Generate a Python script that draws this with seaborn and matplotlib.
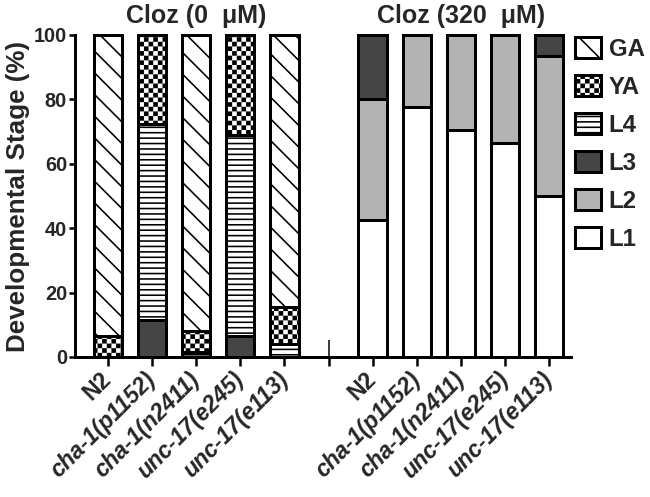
import numpy as np
import pandas as pd
import matplotlib
matplotlib.use("Agg")
import matplotlib.pyplot as plt
import matplotlib.hatch as mhatch
import matplotlib.patches as mpatches
import matplotlib.transforms as mtransforms
from matplotlib.path import Path
import seaborn as sns

# ---------------- data ----------------
strains = ["N2", "cha-1(p1152)", "cha-1(n2411)", "unc-17(e245)", "unc-17(e113)"]
conditions = ["Cloz (0  \u03bcM)", "Cloz (320  \u03bcM)"]
stages = ["L1", "L2", "L3", "L4", "YA", "GA"]

# Cloz 0 uM
L1_0 = [0, 0, 0, 0, 0]
L2_0 = [0, 0, 0, 0, 0]
L3_0 = [0, 11.5, 0, 6.5, 0]
L4_0 = [0, 61.0, 1.5, 62.5, 4.0]
YA_0 = [6.5, 27.5, 6.5, 31.0, 11.5]
GA_0 = [93.5, 0, 92.0, 0, 84.5]
# Cloz 320 uM
L1_320 = [42.5, 77.5, 70.5, 66.5, 50.0]
L2_320 = [37.5, 22.5, 29.5, 33.5, 43.5]
L3_320 = [20.0, 0, 0, 0, 6.5]
L4_320 = [0, 0, 0, 0, 0]
YA_320 = [0, 0, 0, 0, 0]
GA_320 = [0, 0, 0, 0, 0]

yticks = [0, 20, 40, 60, 80, 100]

# ---------------- styles ----------------
DPI = 65
def px(v):
    return v * 72.0 / DPI

stage_style = {
    "GA": dict(color="white", hatch="\\"),
    "YA": dict(color="white", hatch="*"),     # '*' remapped to a checkerboard
    "L4": dict(color="white", hatch="--"),
    "L3": dict(color="#454545", hatch=None),
    "L2": dict(color="#b3b3b3", hatch=None),
    "L1": dict(color="white", hatch=None),
}

# checkerboard hatch (replaces the star hatch)
HATCH_LW_PX = 1.6
class CheckerHatch(mhatch.HatchPatternBase):
    def __init__(self, hatch, density):
        self.n = 14 if "*" in hatch else 0
        self.num_vertices = (self.n * self.n // 2) * 5

    def set_vertices_and_codes(self, vertices, codes):
        s = 1.0 / self.n
        ins = (HATCH_LW_PX / 2.0) / DPI
        k = 0
        for i in range(self.n):
            for j in range(self.n):
                if (i + j) % 2 == 0:
                    x0, y0 = i * s + ins, j * s + ins
                    x1, y1 = (i + 1) * s - ins, (j + 1) * s - ins
                    vertices[k:k + 5] = [(x0, y0), (x1, y0), (x1, y1), (x0, y1), (x0, y0)]
                    codes[k] = Path.MOVETO
                    codes[k + 1:k + 4] = Path.LINETO
                    codes[k + 4] = Path.CLOSEPOLY
                    k += 5

mhatch._hatch_types = [t for t in mhatch._hatch_types if t is not mhatch.Stars] + [CheckerHatch]

sns.set_theme(style="ticks")
plt.rcParams["font.family"] = ["Liberation Sans", "DejaVu Sans"]
plt.rcParams["font.weight"] = "bold"
plt.rcParams["hatch.linewidth"] = px(HATCH_LW_PX)
plt.rcParams["hatch.color"] = "black"

FS_YTICK = px(20)
FS_XTICK = px(23)
FS_YLAB = px(26)
FS_TITLE = px(25)
FS_LEG = px(24)
EDGE = px(3)

fig = plt.figure(figsize=(650 / DPI, 497 / DPI), dpi=DPI)
ax = fig.add_axes([75 / 650, 1 - 357 / 497, (571 - 75) / 650, (357 - 35) / 497])

positions = [0, 1, 2, 3, 4, 6, 7, 8, 9, 10]
vals = {
    "L1": L1_0 + L1_320, "L2": L2_0 + L2_320, "L3": L3_0 + L3_320,
    "L4": L4_0 + L4_320, "YA": YA_0 + YA_320, "GA": GA_0 + GA_320,
}
cum = {}
running = np.zeros(len(positions))
for st in stages:
    running = running + np.array(vals[st], dtype=float)
    cum[st] = running.copy()

for st in reversed(stages):
    df = pd.DataFrame({"pos": positions, "val": cum[st]})
    sns.barplot(data=df, x="pos", y="val", native_scale=True,
                color=stage_style[st]["color"], saturation=1,
                edgecolor="black", linewidth=EDGE, width=0.64,
                errorbar=None, ax=ax)
    for p in ax.containers[-1]:
        p.set_clip_on(False)
        if stage_style[st]["hatch"]:
            p.set_hatch(stage_style[st]["hatch"])

ax.set_xlim(-0.75, 10.5)
ax.set_ylim(0, 100)
ax.set_yticks(yticks)
ax.set_yticklabels([str(v) for v in yticks], fontsize=FS_YTICK, fontweight="bold")

ticks = [0, 1, 2, 3, 4, 5, 6, 7, 8, 9, 10]
labels = strains + [""] + strains
ax.set_xticks(ticks)
ax.set_xticklabels(labels, fontsize=FS_XTICK, fontweight="bold", rotation=45,
                   ha="right", va="center", rotation_mode="anchor")
shift = mtransforms.ScaledTranslation(6 / DPI, 0, fig.dpi_scale_trans)
for lbl in ax.get_xticklabels():
    lbl.set_transform(lbl.get_transform() + shift)
    if lbl.get_text() not in ("N2", ""):
        lbl.set_fontstyle("italic")
ax.xaxis.remove_overlapping_locs = False
ax.set_xticks([5], minor=True)
ax.tick_params(axis="x", which="minor", direction="in", length=px(17), width=px(1.5), color="black")
ax.tick_params(axis="x", which="major", length=px(9), width=px(2.5), color="black", pad=px(10))
ax.tick_params(axis="y", which="major", length=px(6), width=px(2.5), color="black", pad=px(2))

ax.set_xlabel("")
ax.set_ylabel("Developmental Stage (%)", fontsize=FS_YLAB, fontweight="bold", labelpad=px(4))
for s in ["left", "bottom"]:
    ax.spines[s].set_linewidth(EDGE)
    ax.spines[s].set_color("black")
sns.despine(ax=ax)
ax.set_facecolor("white")

ax.text(2, 106, conditions[0], ha="center", va="center", fontsize=FS_TITLE, fontweight="bold", clip_on=False)
ax.text(8, 106, conditions[1], ha="center", va="center", fontsize=FS_TITLE, fontweight="bold", clip_on=False)

handles = [mpatches.Patch(facecolor=stage_style[s]["color"], edgecolor="black",
                          hatch=stage_style[s]["hatch"], linewidth=EDGE, label=s)
           for s in reversed(stages)]
fig.legend(handles=handles, loc="upper left", bbox_to_anchor=(575 / 650, 1 - 37 / 497),
           frameon=False, prop=dict(size=FS_LEG, weight="bold"),
           handlelength=1.1, handleheight=0.95, labelspacing=0.6, handletextpad=0.3,
           borderaxespad=0, borderpad=0)

fig.savefig("out.png", dpi=DPI, facecolor="white")
